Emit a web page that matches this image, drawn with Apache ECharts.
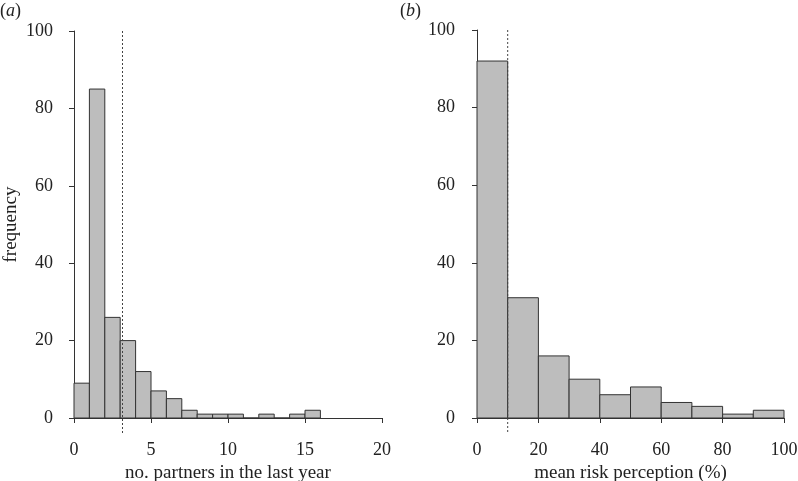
<!DOCTYPE html>
<html>
<head>
<meta charset="utf-8">
<script src="https://cdn.jsdelivr.net/npm/echarts@6/dist/echarts.min.js"></script>
<style>html,body{margin:0;padding:0;background:#fff}#c{width:798px;height:481px}</style>
</head>
<body>
<div id="c"></div>
<script>
// Panel (a): number of partners in the last year, bins of width 1
const partnerBinStarts = [0,1,2,3,4,5,6,7,8,9,10,11,12,13,14,15];
const partnerBinWidth = 1;
const partnerCounts = [9,85,26,20,12,7,5,2,1,1,1,0,1,0,1,2];
const partnerMean = 3.15;
const partnerXTicks = [0,5,10,15,20];

// Panel (b): mean risk perception (%), bins of width 10
const riskBinStarts = [0,10,20,30,40,50,60,70,80,90];
const riskBinWidth = 10;
const riskCounts = [92,31,16,10,6,8,4,3,1,2];
const riskMean = 10;
const riskXTicks = [0,20,40,60,80,100];

const freqTicks = [0,20,40,60,80,100];

const FONT = '"Liberation Serif", "DejaVu Serif", serif';
const TXT = '#222';
const AX = '#333';

function histData(starts, w, counts) {
  return starts.map((s, i) => [s, s + w, counts[i]]);
}

function barRender(params, api) {
  const p0 = api.coord([api.value(0), 0]);
  const p1 = api.coord([api.value(1), api.value(2)]);
  return {
    type: 'rect',
    shape: { x: p0[0], y: p1[1], width: p1[0] - p0[0], height: p0[1] - p1[1] },
    style: { fill: '#bdbdbd', stroke: '#333', lineWidth: 1 }
  };
}

function meanRender(params, api) {
  const a = api.coord([api.value(0), api.value(1)]);
  const b = api.coord([api.value(0), api.value(2)]);
  return {
    type: 'line',
    shape: { x1: a[0], y1: a[1], x2: b[0], y2: b[1] },
    style: { stroke: '#444', lineWidth: 1, lineDash: [2, 2] }
  };
}

function xAxis(idx, ticks, name) {
  return {
    type: 'value', gridIndex: idx,
    min: ticks[0], max: ticks[ticks.length - 1],
    interval: ticks[1] - ticks[0],
    offset: 15,
    name: name, nameLocation: 'middle', nameGap: 27,
    nameTextStyle: { fontFamily: FONT, fontSize: 19, color: TXT },
    axisLine: { show: true, lineStyle: { color: AX, width: 1 } },
    axisTick: { show: true, length: 5, lineStyle: { color: AX } },
    axisLabel: { fontFamily: FONT, fontSize: 18, color: TXT, margin: 8 },
    splitLine: { show: false }
  };
}

function yAxis(idx, name, off) {
  return {
    type: 'value', gridIndex: idx,
    min: freqTicks[0], max: freqTicks[freqTicks.length - 1],
    interval: freqTicks[1] - freqTicks[0],
    offset: off,
    name: name, nameLocation: 'middle', nameGap: 41,
    nameTextStyle: { fontFamily: FONT, fontSize: 19, color: TXT },
    axisLine: { show: true, lineStyle: { color: AX, width: 1 } },
    axisTick: { show: true, length: 5, lineStyle: { color: AX } },
    axisLabel: { fontFamily: FONT, fontSize: 18, color: TXT, margin: 9 },
    splitLine: { show: false }
  };
}

const chart = echarts.init(document.getElementById('c'), null, { renderer: 'canvas' });
chart.setOption({
  animation: false,
  backgroundColor: '#fff',
  grid: [
    { left: 74, top: 31, width: 308, height: 387, containLabel: false, outerBoundsMode: 'none' },
    { left: 477, top: 30, width: 307, height: 388, containLabel: false, outerBoundsMode: 'none' }
  ],
  xAxis: [
    xAxis(0, partnerXTicks, 'no. partners in the last year'),
    xAxis(1, riskXTicks, 'mean risk perception (%)')
  ],
  yAxis: [
    yAxis(0, 'frequency', 12),
    yAxis(1, '', 13)
  ],
  graphic: [
    { type: 'text', left: 0, top: 2, style: { text: '({i|a})', font: '18px ' + FONT, fill: TXT,
      rich: { i: { fontStyle: 'italic', fontFamily: FONT, fontSize: 18, fill: TXT } } } },
    { type: 'text', left: 400, top: 2, style: { text: '({i|b})', font: '18px ' + FONT, fill: TXT,
      rich: { i: { fontStyle: 'italic', fontFamily: FONT, fontSize: 18, fill: TXT } } } }
  ],
  series: [
    { type: 'custom', xAxisIndex: 0, yAxisIndex: 0, renderItem: barRender,
      encode: { x: [0, 1], y: 2 }, data: histData(partnerBinStarts, partnerBinWidth, partnerCounts) },
    { type: 'custom', xAxisIndex: 1, yAxisIndex: 1, renderItem: barRender,
      encode: { x: [0, 1], y: 2 }, data: histData(riskBinStarts, riskBinWidth, riskCounts) },
    { type: 'custom', xAxisIndex: 0, yAxisIndex: 0, renderItem: meanRender, clip: false, z: 5,
      encode: { x: 0, y: [1, 2] }, data: [[partnerMean, 100, -4]] },
    { type: 'custom', xAxisIndex: 1, yAxisIndex: 1, renderItem: meanRender, clip: false, z: 5,
      encode: { x: 0, y: [1, 2] }, data: [[riskMean, 100, -4]] }
  ]
});
</script>
</body>
</html>
